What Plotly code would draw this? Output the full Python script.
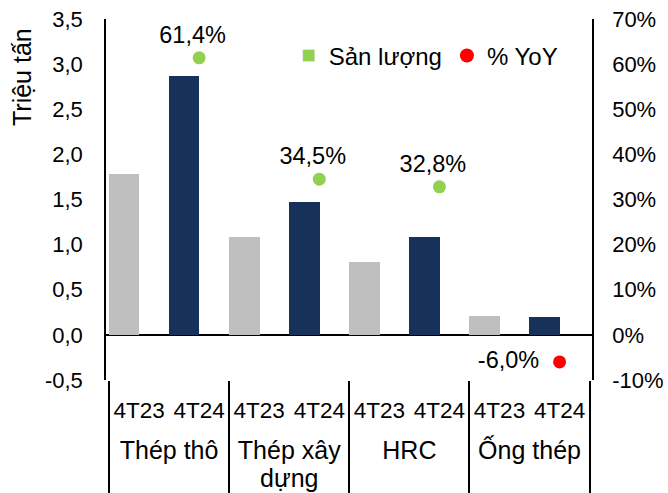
import plotly.graph_objects as go

# Steel output by product, 4 months 2023 vs 4 months 2024
groups = ["Thép thô", "Thép xây<br>dựng", "HRC", "Ống thép"]
periods = ["4T23", "4T24"]
output_4t23 = [1.78, 1.09, 0.81, 0.21]   # million tonnes
output_4t24 = [2.87, 1.47, 1.08, 0.197]  # million tonnes
yoy_pct = [61.4, 34.5, 32.8, -6.0]       # % change

left_ticks = [-0.5, 0, 0.5, 1, 1.5, 2, 2.5, 3, 3.5]
left_labels = ["-0,5", "0,0", "0,5", "1,0", "1,5", "2,0", "2,5", "3,0", "3,5"]
right_ticks = [-10, 0, 10, 20, 30, 40, 50, 60, 70]
right_labels = ["-10%", "0%", "10%", "20%", "30%", "40%", "50%", "60%", "70%"]

GREY = "#BFBFBF"
NAVY = "#17325A"
GREEN = "#92D050"
RED = "#FF0000"
FONT = "Arial, Liberation Sans, sans-serif"
NBSP = "\u00a0"

# category axis: the base font sets the line pitch, spans set glyph size;
# the group row starts with a blank line so it sits below the period row
AX_FONT = 22
SPAN25 = "<span style='font-size:25px'>"
grp_lbl = [NBSP + "<br>" + "<br>".join(SPAN25 + part + "</span>"
                                       for part in g.split("<br>"))
           for g in groups]
per_lbl = [f"<span style='font-size:22.5px'>{p}</span>" for p in periods]

bar_x0, bar_x1, bar_y, bar_c = [], [], [], []
for g, a, b in zip(grp_lbl, output_4t23, output_4t24):
    bar_x0 += [g, g]
    bar_x1 += per_lbl
    bar_y += [a, b]
    bar_c += [GREY, NAVY]

fig = go.Figure()
fig.add_trace(go.Bar(
    x=[bar_x0, bar_x1], y=bar_y, marker=dict(color=bar_c, line=dict(width=0)),
    width=0.51, showlegend=False, name="Sản lượng",
))

dot_colors = [GREEN if v >= 0 else RED for v in yoy_pct]
dot_pos = ["top center" if v >= 0 else "middle left" for v in yoy_pct]
dot_text = [f"{v:.1f}%".replace(".", ",") + (NBSP * 2 if v >= 0 else NBSP + "\u2009")
            for v in yoy_pct]
fig.add_trace(go.Scatter(
    x=[grp_lbl, [per_lbl[1]] * len(groups)], y=yoy_pct, yaxis="y2",
    mode="markers+text", marker=dict(color=dot_colors, size=13),
    text=dot_text, textposition=dot_pos,
    textfont=dict(size=23.5, color="black", family=FONT),
    showlegend=False, name="% YoY",
))

# legend keys
fig.add_trace(go.Bar(x=[[grp_lbl[0]], [per_lbl[0]]], y=[None], name="Sản lượng",
                     marker=dict(color=GREEN)))
fig.add_trace(go.Scatter(x=[[grp_lbl[0]], [per_lbl[0]]], y=[None], yaxis="y2",
                         mode="markers", name="% YoY",
                         marker=dict(color=RED, size=14)))

fig.add_annotation(
    text="Triệu tấn", textangle=-90, xref="paper", yref="paper",
    x=-0.173, y=0.839, xanchor="center", yanchor="middle", showarrow=False,
    font=dict(size=25, color="black", family=FONT),
)

fig.update_layout(
    width=668, height=493,
    margin=dict(l=106, r=76, t=19, b=113, autoexpand=False),
    paper_bgcolor="white", plot_bgcolor="white",
    font=dict(family=FONT, size=22, color="black"),
    bargap=0, barmode="group",
    xaxis=dict(
        type="multicategory", showgrid=False, showline=False, ticks="",
        showdividers=True, dividercolor="black", dividerwidth=1.5,
        tickfont=dict(size=AX_FONT), tickangle=0,
        ticklabelstandoff=15 + round(0.7 * (22.5 - AX_FONT)),
        automargin=False,
    ),
    yaxis=dict(
        range=[-0.5, 3.5], tickvals=left_ticks, ticktext=left_labels,
        showgrid=False, showline=True, linecolor="black", linewidth=1.5,
        ticks="", zeroline=True, zerolinecolor="black", zerolinewidth=2,
        tickfont=dict(size=22), ticklabelstandoff=17, automargin=False,
    ),
    yaxis2=dict(
        overlaying="y", side="right", range=[-10, 70],
        tickvals=right_ticks, ticktext=right_labels,
        showgrid=False, showline=True, linecolor="black",
        linewidth=1.5, ticks="", zeroline=False, tickfont=dict(size=22),
        ticklabelstandoff=14, automargin=False,
    ),
    legend=dict(
        orientation="h", x=0.376, y=0.96, xanchor="left", yanchor="top",
        font=dict(size=24), bgcolor="rgba(0,0,0,0)",
        itemwidth=30, tracegroupgap=0,
    ),
)

fig.write_html("out.html")
